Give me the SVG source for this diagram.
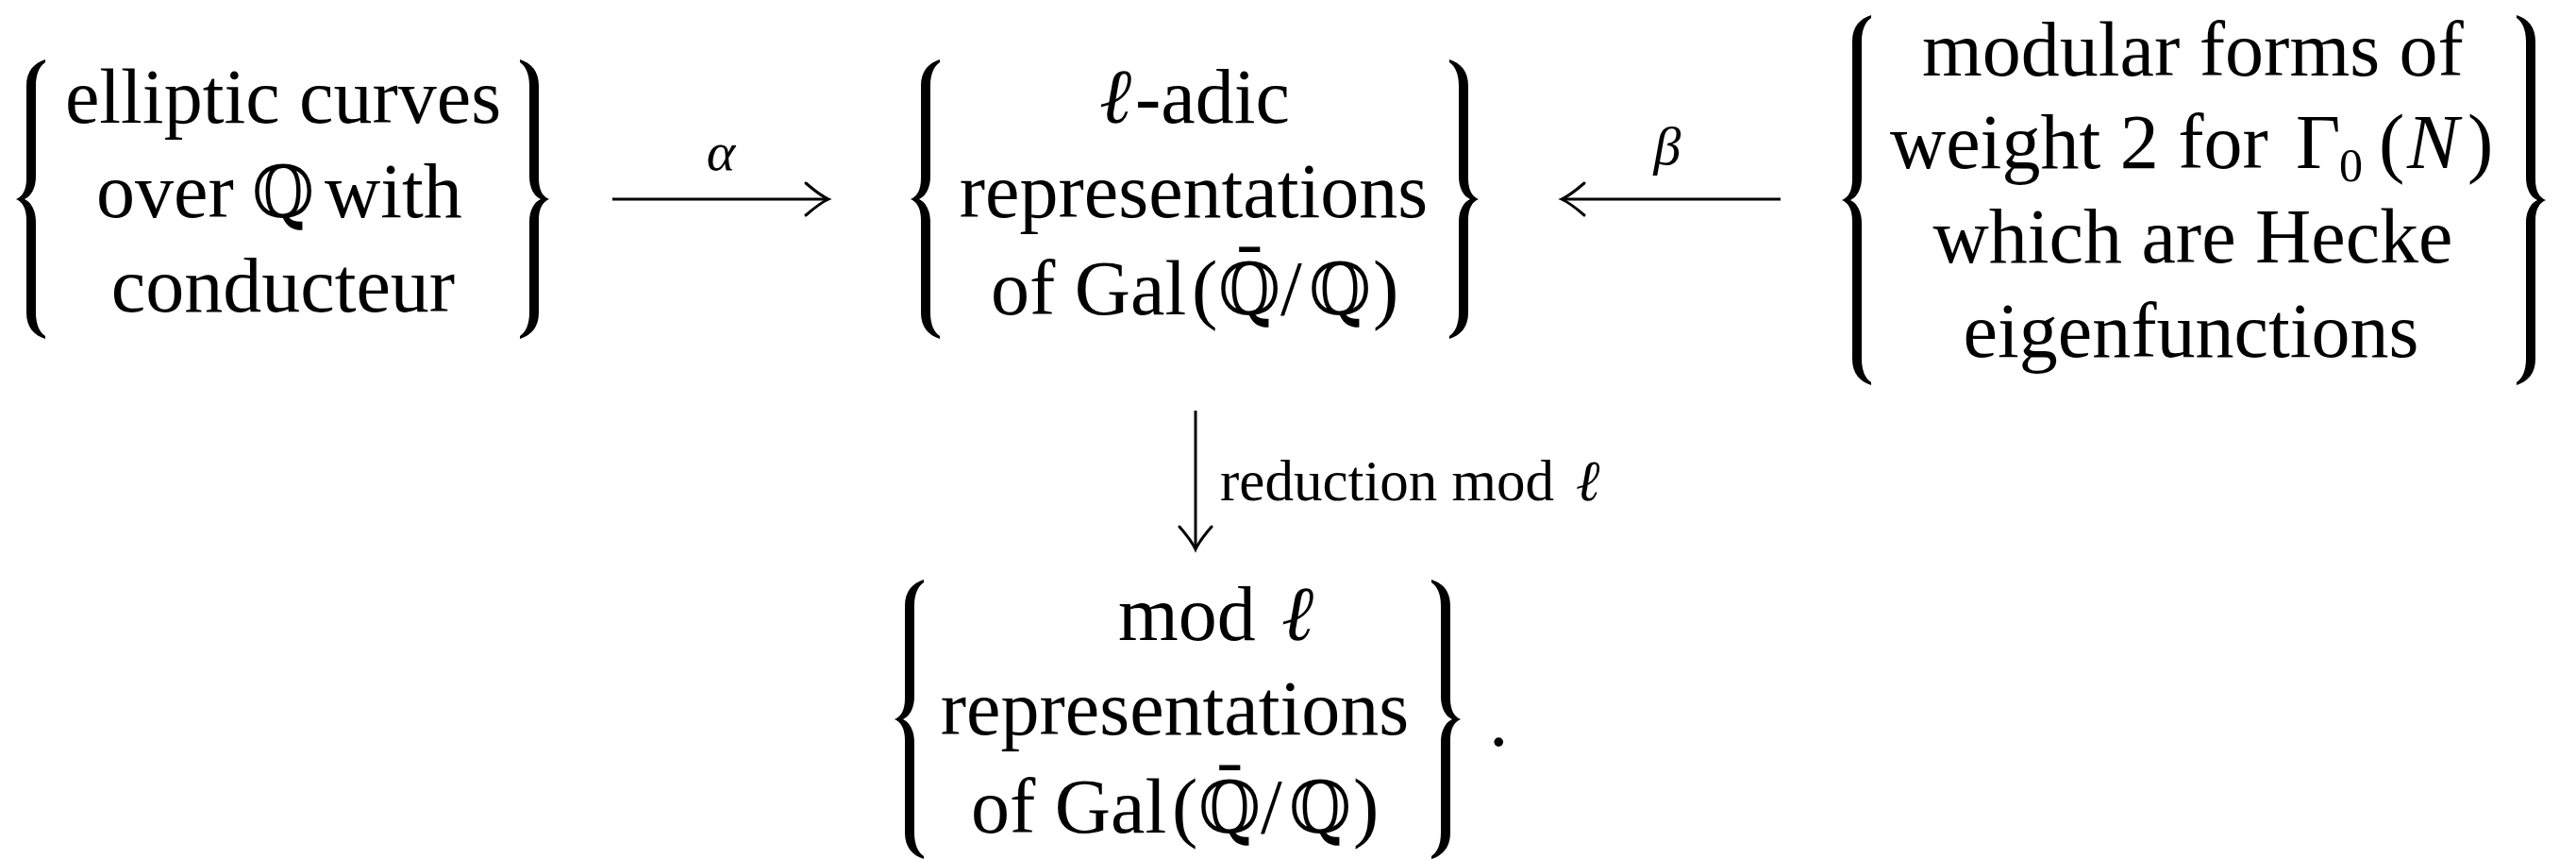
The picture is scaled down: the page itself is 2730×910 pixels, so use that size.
<svg xmlns="http://www.w3.org/2000/svg" xmlns:xlink="http://www.w3.org/1999/xlink" width="2730" height="910" viewBox="0 0 2730 910">
<style>
.t{font-family:"Liberation Serif","Times New Roman",serif;font-size:82px;fill:#000}
.bb{font-family:"DejaVu Serif","DejaVu Sans",serif;font-size:76px}
.it{font-style:italic}
.lbl{font-family:"Liberation Serif","Times New Roman",serif;font-size:58px;font-style:italic;fill:#000}
.sm{font-family:"Liberation Serif","Times New Roman",serif;font-size:61px;fill:#000}
.conn{stroke:#000;stroke-width:3;fill:none}
.brace{fill:#000}
</style>
<defs>
<marker id="ah" viewBox="-30 -20 34 40" markerWidth="34" markerHeight="40" refX="0" refY="0" orient="auto" markerUnits="userSpaceOnUse">
<path d="M-24,-17 Q-9,-4 0,0 Q-9,4 -24,17" fill="none" stroke="#000" stroke-width="3" stroke-linecap="round"/>
</marker>
<path id="b3" class="brace" d="M31,-148 C19,-144 11,-136 11,-120 L11,-22 C11,-10 7,-3 0,0 C7,3 11,10 11,22 L11,120 C11,136 19,144 31,148 L31,145 C25,141 21,133 21,120 L21,24 C21,12 16,3 9,0 C16,-3 21,-12 21,-24 L21,-120 C21,-133 25,-141 31,-145 Z"/>
<path id="b4" class="brace" d="M31,-196 C19,-192 11,-184 11,-168 L11,-22 C11,-10 7,-3 0,0 C7,3 11,10 11,22 L11,168 C11,184 19,192 31,196 L31,193 C25,189 21,181 21,168 L21,24 C21,12 16,3 9,0 C16,-3 21,-12 21,-24 L21,-168 C21,-181 25,-189 31,-193 Z"/>
</defs>
<rect width="2730" height="910" fill="#fff"/>

<g id="node-elliptic">
<use xlink:href="#b3" transform="translate(17,211)"/>
<use xlink:href="#b3" transform="translate(582,211) scale(-1,1)"/>
<text class="t" x="300" y="130" text-anchor="middle">elliptic curves</text>
<text class="t" y="230"><tspan x="102">over</tspan><tspan class="bb" x="267">ℚ</tspan><tspan x="344">with</tspan></text>
<text class="t" x="300" y="330" text-anchor="middle">conducteur</text>
</g>

<g id="node-ladic">
<use xlink:href="#b3" transform="translate(965,211)"/>
<use xlink:href="#b3" transform="translate(1567,211) scale(-1,1)"/>
<text class="t" y="130"><tspan class="it" x="1165">ℓ</tspan><tspan x="1203">-adic</tspan></text>
<text class="t" x="1265" y="230" text-anchor="middle">representations</text>
<text class="t" y="333"><tspan x="1050">of Gal</tspan><tspan x="1263">(</tspan><tspan class="bb" x="1291">ℚ&#x304;</tspan><tspan x="1357">/</tspan><tspan class="bb" x="1387">ℚ</tspan><tspan x="1455">)</tspan></text>
</g>

<g id="node-modular">
<use xlink:href="#b4" transform="translate(1952,212)"/>
<use xlink:href="#b4" transform="translate(2698,212) scale(-1,1)"/>
<text class="t" x="2324" y="80" text-anchor="middle">modular forms of</text>
<text class="t" y="178"><tspan x="2003">weight 2 for</tspan><tspan x="2433">Γ</tspan><tspan x="2479" dy="14" font-size="50">0</tspan><tspan x="2521" dy="-14">(</tspan><tspan class="it" x="2551">N</tspan><tspan x="2615">)</tspan></text>
<text class="t" x="2324" y="278" text-anchor="middle">which are Hecke</text>
<text class="t" x="2322" y="378" text-anchor="middle">eigenfunctions</text>
</g>

<g id="node-modl">
<use xlink:href="#b3" transform="translate(948,762)"/>
<use xlink:href="#b3" transform="translate(1548,762) scale(-1,1)"/>
<text class="t" y="678"><tspan x="1185">mod</tspan><tspan class="it" x="1358">ℓ</tspan></text>
<text class="t" x="1245" y="778" text-anchor="middle">representations</text>
<text class="t" y="882"><tspan x="1029">of Gal</tspan><tspan x="1242">(</tspan><tspan class="bb" x="1270">ℚ&#x304;</tspan><tspan x="1336">/</tspan><tspan class="bb" x="1366">ℚ</tspan><tspan x="1434">)</tspan></text>
<text class="t" x="1578" y="790">.</text>
</g>

<g id="connectors">
<line class="conn" x1="649" y1="211" x2="878" y2="211" marker-end="url(#ah)"/>
<text class="lbl" x="764" y="180" text-anchor="middle">α</text>
<line class="conn" x1="1887" y1="211" x2="1655" y2="211" marker-end="url(#ah)"/>
<text class="lbl" x="1767" y="174" text-anchor="middle">β</text>
<line class="conn" x1="1267" y1="435" x2="1267" y2="582" marker-end="url(#ah)"/>
<text class="sm" y="530"><tspan x="1293">reduction mod</tspan><tspan class="it" x="1670">ℓ</tspan></text>
</g>
</svg>
